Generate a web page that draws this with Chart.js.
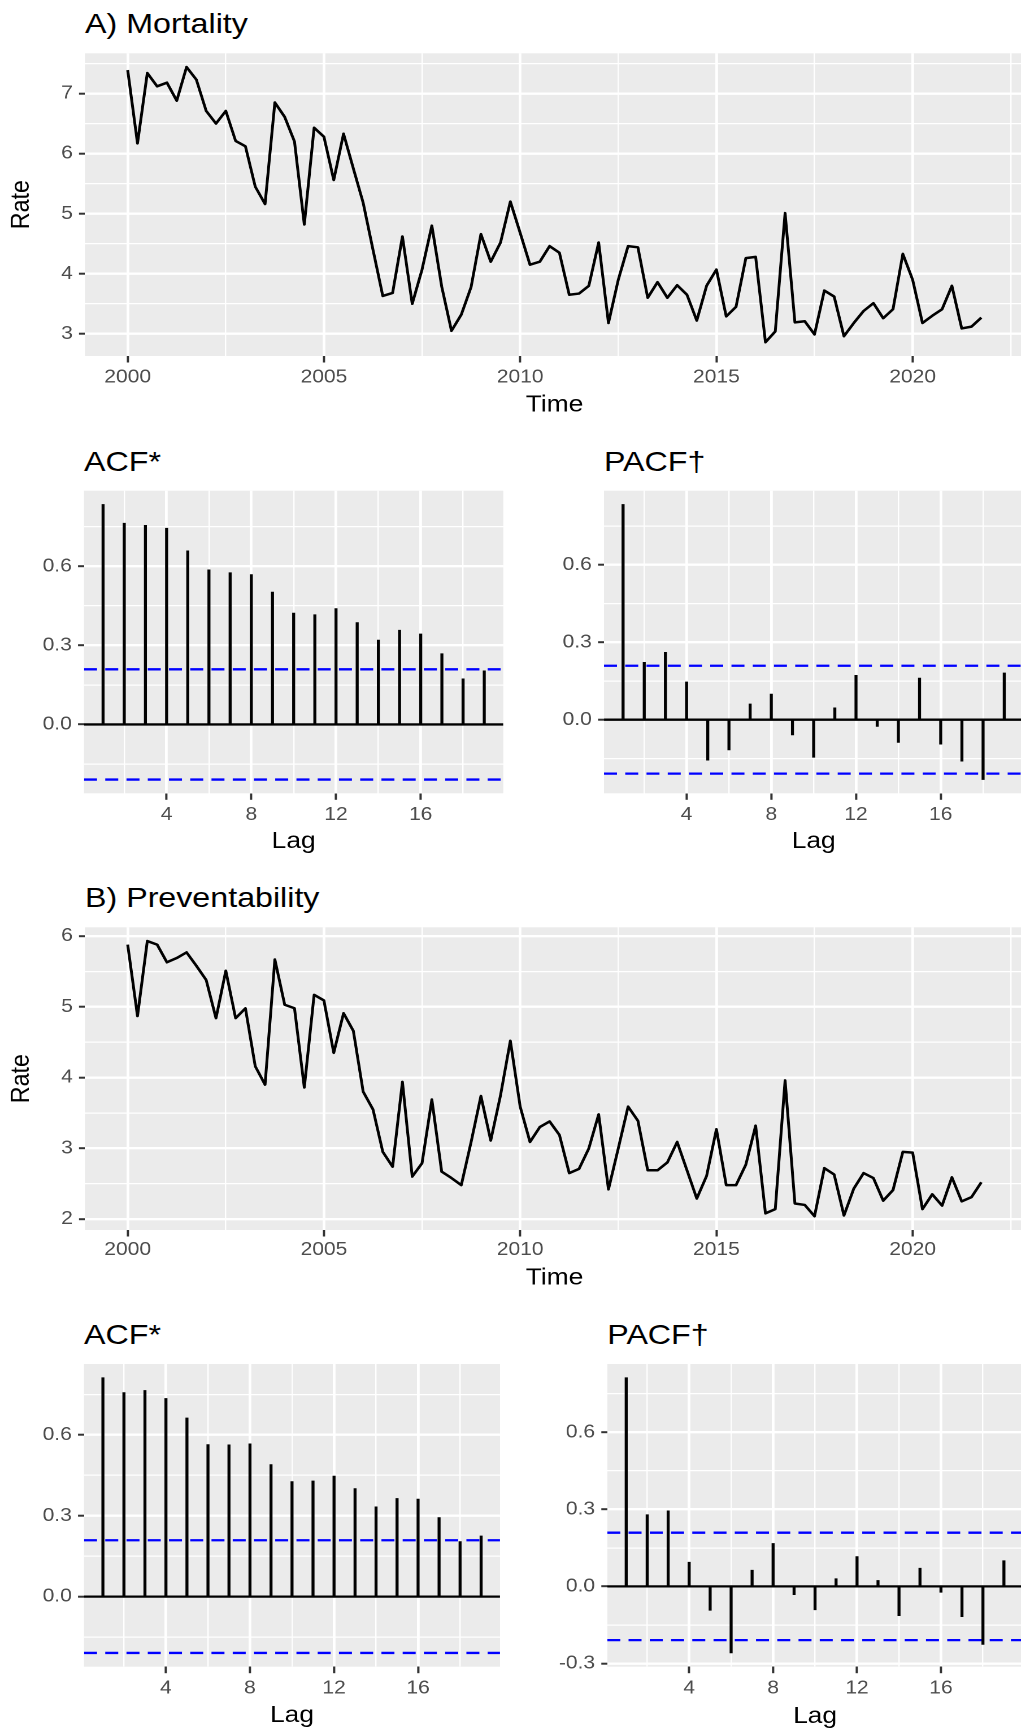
<!DOCTYPE html>
<html>
<head>
<meta charset="utf-8">
<script src="https://cdn.jsdelivr.net/npm/chart.js@4.4.1/dist/chart.umd.min.js"></script>
<style>
html, body { margin: 0; padding: 0; background: #ffffff; overflow: hidden; width: 1021px; height: 1733px; }
#page { position: absolute; left: 0; top: 0; width: 903.54px; height: 1733px; overflow: hidden;
        transform: scaleX(1.13); transform-origin: 0 0; background: #ffffff; }
#page canvas { position: absolute; }
.ttl { position: absolute; font-family: "Liberation Sans", Arial, Helvetica, sans-serif; font-size: 28.5px;
       line-height: 28.5px; color: #000; white-space: nowrap; }
</style>
</head>
<body>
<div id="page"></div>
<script>
// ---------------- DATA ----------------
const quarterStart = 2000;      // first quarter of the series
const quartersPerYear = 4;

const mortalityRate = [
  7.39, 6.17, 7.34, 7.12, 7.18, 6.88, 7.44, 7.23, 6.71, 6.50,
  6.71, 6.21, 6.12, 5.45, 5.16, 6.85, 6.61, 6.20, 4.82, 6.43,
  6.28, 5.56, 6.33, 5.75, 5.18, 4.40, 3.63, 3.68, 4.62, 3.50,
  4.07, 4.80, 3.79, 3.05, 3.32, 3.78, 4.66, 4.20, 4.52, 5.20,
  4.68, 4.15, 4.20, 4.46, 4.35, 3.65, 3.67, 3.80, 4.52, 3.18,
  3.90, 4.46, 4.44, 3.60, 3.86, 3.60, 3.81, 3.65, 3.22, 3.80,
  4.07, 3.29, 3.45, 4.26, 4.28, 2.86, 3.04, 5.01, 3.19, 3.21,
  2.99, 3.72, 3.62, 2.96, 3.18, 3.38, 3.51, 3.26, 3.41, 4.33,
  3.90, 3.18, 3.30, 3.41, 3.80, 3.09, 3.12, 3.27
];

const preventabilityRate = [
  5.88, 4.87, 5.93, 5.88, 5.63, 5.69, 5.77, 5.58, 5.38, 4.84,
  5.51, 4.84, 4.98, 4.16, 3.90, 5.67, 5.03, 4.98, 3.86, 5.17,
  5.09, 4.35, 4.91, 4.66, 3.80, 3.55, 2.95, 2.74, 3.94, 2.60,
  2.79, 3.69, 2.67, 2.58, 2.48, 3.09, 3.74, 3.11, 3.75, 4.52,
  3.59, 3.09, 3.30, 3.38, 3.19, 2.65, 2.71, 3.00, 3.48, 2.42,
  3.00, 3.59, 3.39, 2.69, 2.69, 2.80, 3.09, 2.69, 2.29, 2.61,
  3.27, 2.48, 2.48, 2.77, 3.32, 2.08, 2.14, 3.96, 2.22, 2.20,
  2.04, 2.72, 2.63, 2.05, 2.43, 2.65, 2.58, 2.26, 2.41, 2.95,
  2.94, 2.14, 2.35, 2.19, 2.59, 2.25, 2.31, 2.52
];

const lags = [1, 2, 3, 4, 5, 6, 7, 8, 9, 10, 11, 12, 13, 14, 15, 16, 17, 18, 19];

const acfMortality = [0.834, 0.763, 0.755, 0.744, 0.658, 0.586, 0.575, 0.568, 0.502, 0.422,
                      0.416, 0.439, 0.386, 0.320, 0.357, 0.343, 0.268, 0.173, 0.203];
const pacfMortality = [0.834, 0.222, 0.261, 0.146, -0.157, -0.117, 0.061, 0.099, -0.059, -0.146,
                       0.046, 0.172, -0.026, -0.088, 0.161, -0.095, -0.161, -0.232, 0.181];
const acfPrevent = [0.812, 0.757, 0.765, 0.735, 0.663, 0.564, 0.563, 0.567, 0.490, 0.427,
                    0.429, 0.447, 0.401, 0.333, 0.364, 0.362, 0.293, 0.204, 0.225];
const pacfPrevent = [0.812, 0.279, 0.294, 0.094, -0.093, -0.259, 0.063, 0.167, -0.032, -0.091,
                     0.030, 0.116, 0.023, -0.114, 0.071, -0.023, -0.118, -0.226, 0.100];

const ciBound = 0.209;   // significance bounds (dashed blue lines)

// tick labels
const yearTicks = [2000, 2005, 2010, 2015, 2020];
const yearMinorTicks = [2002.5, 2007.5, 2012.5, 2017.5, 2022.5];
const mortalityTicks = [3, 4, 5, 6, 7];
const mortalityMinorTicks = [2.5, 3.5, 4.5, 5.5, 6.5, 7.5];
const preventTicks = [2, 3, 4, 5, 6];
const preventMinorTicks = [1.5, 2.5, 3.5, 4.5, 5.5];
const lagTicks = [4, 8, 12, 16];
const lagMinorTicks = [2, 6, 10, 14, 18];
const corrTicks = [-0.3, 0.0, 0.3, 0.6];
const corrMinorTicks = [-0.15, 0.15, 0.45, 0.75];

const times = mortalityRate.map((_, i) => quarterStart + i / quartersPerYear);

// ---------------- STYLE / LAYOUT ----------------
const SX = 1.13;               // horizontal stretch of the reference picture
const FONT = '"Liberation Sans", Arial, Helvetica, sans-serif';
Chart.defaults.font.family = FONT;
const MAJOR_W = 2.4, MINOR_W = 1.2;
const TICK_FONT = 18.6, AXIS_TITLE_FONT = 23.3, TITLE_FONT = 28.5;

const page = document.getElementById('page');

const panelBg = {
  id: 'panelBg',
  beforeDraw(chart) {
    const { ctx, chartArea: a } = chart;
    ctx.save();
    ctx.fillStyle = '#EBEBEB';
    ctx.fillRect(a.left, a.top, a.right - a.left, a.bottom - a.top);
    ctx.restore();
  }
};

function addTitle(text, leftRef, baseline) {
  const d = document.createElement('div');
  d.className = 'ttl';
  d.textContent = text;
  d.style.left = (leftRef / SX) + 'px';
  d.style.top = (baseline - 0.8465 * TITLE_FONT) + 'px';
  page.appendChild(d);
}

function expand(lo, hi) { const d = (hi - lo) * 0.05; return [lo - d, hi + d]; }

function scaleCfg(o) {
  const all = o.majors.concat(o.minors).filter(v => v >= o.lo && v <= o.hi).sort((a, b) => a - b);
  const isMajor = v => o.majors.some(m => Math.abs(m - v) < 1e-9);
  const titleCfg = o.title ? {
    display: true, text: o.title, color: '#000000',
    font: { size: AXIS_TITLE_FONT, lineHeight: 1.2 },
    padding: o.horizontal ? { top: 0, bottom: o.titlePad } : { top: o.titlePad, bottom: 0 }
  } : { display: false };
  return {
    type: 'linear', min: o.lo, max: o.hi, offset: false,
    position: o.horizontal ? 'bottom' : 'left',
    border: { display: false },
    grid: {
      offset: false, drawOnChartArea: true, drawTicks: true, tickLength: o.tickLen,
      color: '#FFFFFF',
      lineWidth: c => (c.tick && isMajor(c.tick.value)) ? MAJOR_W : MINOR_W,
      tickColor: c => (c.tick && isMajor(c.tick.value)) ? '#333333' : 'rgba(0,0,0,0)',
      tickWidth: 2
    },
    ticks: {
      autoSkip: false, maxRotation: 0, minRotation: 0, padding: o.tickPad,
      color: '#4D4D4D', font: { size: TICK_FONT },
      callback: v => isMajor(v) ? o.fmt(v) : ''
    },
    afterBuildTicks: s => { s.ticks = all.map(v => ({ value: v })); },
    afterFit: s => {
      if (o.horizontal) s.height = o.size; else s.width = o.size;
      s.paddingLeft = 0; s.paddingRight = 0; s.paddingTop = 0; s.paddingBottom = 0;
    },
    title: titleCfg
  };
}

function makeCanvas(ref) {
  const cl = Math.round(ref.canvas.l / SX), cr = Math.round(ref.canvas.r / SX);
  const cv = document.createElement('canvas');
  cv.width = cr - cl;
  cv.height = ref.canvas.b - ref.canvas.t;
  cv.style.left = cl + 'px';
  cv.style.top = ref.canvas.t + 'px';
  page.appendChild(cv);
  return { cv, cl, cr };
}

function baseOptions(ref, cr) {
  return {
    responsive: false, animation: false, devicePixelRatio: 2, events: [],
    layout: { autoPadding: false,
      padding: { left: 0, top: ref.area.t - ref.canvas.t, right: cr - ref.area.r / SX, bottom: 0 } },
    plugins: { legend: { display: false }, tooltip: { enabled: false } }
  };
}

const fmtYear = v => String(v);
const fmtCorr = v => v.toFixed(1);

function linePanel(ref, values, yMajors, yMinors) {
  const { cv, cl, cr } = makeCanvas(ref);
  const [xlo, xhi] = expand(times[0], times[times.length - 1]);
  const [ylo, yhi] = expand(Math.min(...values), Math.max(...values));
  const opts = baseOptions(ref, cr);
  opts.scales = {
    x: scaleCfg({ lo: xlo, hi: xhi, majors: yearTicks, minors: yearMinorTicks, fmt: fmtYear,
                  horizontal: true, size: ref.canvas.b - ref.area.b, tickLen: 6.5, tickPad: ref.xTickPad,
                  title: 'Time', titlePad: ref.xTitlePad }),
    y: scaleCfg({ lo: ylo, hi: yhi, majors: yMajors, minors: yMinors, fmt: fmtYear,
                  horizontal: false, size: ref.area.l / SX - cl, tickLen: 5.3, tickPad: 5.5,
                  title: 'Rate', titlePad: 5.2 })
  };
  new Chart(cv, {
    type: 'line',
    data: { datasets: [{
      data: times.map((t, i) => ({ x: t, y: values[i] })),
      borderColor: '#000000', borderWidth: 2.5, pointRadius: 0, tension: 0,
      borderJoinStyle: 'round', fill: false
    }] },
    options: opts,
    plugins: [panelBg]
  });
}

function corrPanel(ref, values) {
  const { cv, cl, cr } = makeCanvas(ref);
  const [xlo, xhi] = expand(lags[0], lags[lags.length - 1]);
  const [ylo, yhi] = expand(Math.min(-ciBound, ...values), Math.max(ciBound, ...values));
  const opts = baseOptions(ref, cr);
  opts.scales = {
    x: scaleCfg({ lo: xlo, hi: xhi, majors: lagTicks, minors: lagMinorTicks, fmt: fmtYear,
                  horizontal: true, size: ref.canvas.b - ref.area.b, tickLen: 6.5, tickPad: ref.xTickPad,
                  title: 'Lag', titlePad: ref.xTitlePad }),
    y: scaleCfg({ lo: ylo, hi: yhi, majors: corrTicks, minors: corrMinorTicks, fmt: fmtCorr,
                  horizontal: false, size: ref.area.l / SX - cl, tickLen: 5.3, tickPad: 5.5, title: null })
  };
  const hline = (y, color, dash, order) => ({
    type: 'line', data: [{ x: xlo, y: y }, { x: xhi, y: y }],
    borderColor: color, borderWidth: 2.3, borderDash: dash, pointRadius: 0, order: order,
    clip: 0
  });
  new Chart(cv, {
    type: 'bar',
    data: { datasets: [
      hline(ciBound, '#0000FF', [11.5, 7.3], 0),
      hline(-ciBound, '#0000FF', [11.5, 7.3], 0),
      hline(0, '#000000', [], 1),
      { type: 'bar', data: lags.map((l, i) => ({ x: l, y: values[i] })),
        backgroundColor: '#000000', borderWidth: 0, barThickness: 2, order: 2 }
    ] },
    options: opts,
    plugins: [panelBg]
  });
}

// ---------------- PANELS (reference pixel coordinates) ----------------
addTitle('A) Mortality', 85, 33.3);
linePanel({ canvas: { l: 0, t: 40, r: 1030, b: 440 }, area: { l: 85, t: 53.3, r: 1024, b: 356 },
            xTickPad: 3.6, xTitlePad: 21.0 }, mortalityRate, mortalityTicks, mortalityMinorTicks);

addTitle('ACF*', 84, 470.7);
corrPanel({ canvas: { l: 0, t: 475, r: 510, b: 870 }, area: { l: 84, t: 490.7, r: 503.3, b: 793.3 },
            xTickPad: 4.0, xTitlePad: 14.3 }, acfMortality);

addTitle('PACF\u2020', 604, 470.7);
corrPanel({ canvas: { l: 520, t: 475, r: 1030, b: 870 }, area: { l: 604, t: 490.7, r: 1023.3, b: 793.3 },
            xTickPad: 4.0, xTitlePad: 14.3 }, pacfMortality);

addTitle('B) Preventability', 85, 907.3);
linePanel({ canvas: { l: 0, t: 915, r: 1030, b: 1310 }, area: { l: 85, t: 927.3, r: 1024, b: 1230 },
            xTickPad: 2.3, xTitlePad: 17.7 }, preventabilityRate, preventTicks, preventMinorTicks);

addTitle('ACF*', 84, 1344);
corrPanel({ canvas: { l: 0, t: 1348, r: 510, b: 1733 }, area: { l: 84, t: 1364, r: 500, b: 1666.7 },
            xTickPad: 3.9, xTitlePad: 3.3 }, acfPrevent);

addTitle('PACF\u2020', 607.3, 1344.3);
corrPanel({ canvas: { l: 520, t: 1348, r: 1030, b: 1733 }, area: { l: 607.3, t: 1364, r: 1022.8, b: 1666.7 },
            xTickPad: 3.9, xTitlePad: 2.3 }, pacfPrevent);
</script>
</body>
</html>
